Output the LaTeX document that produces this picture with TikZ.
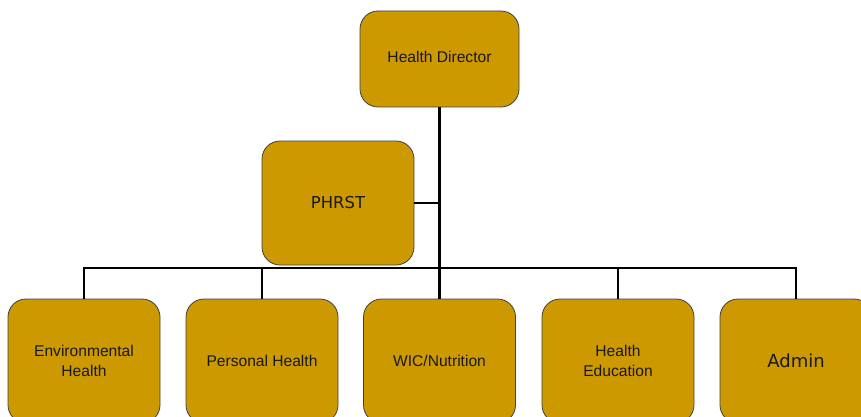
\documentclass[tikz,border=0pt]{standalone}
\usepackage{fontspec}
\setmainfont{Liberation Sans}
\newfontfamily\dvfont{DejaVu Sans}
\definecolor{boxgold}{HTML}{CC9900}
\tikzset{
  orgbox/.style={draw=black!75, line width=0.8pt, fill=boxgold, rounded corners=18pt,
    align=center, inner sep=2pt, text=black!90,
    font=\fontsize{15.6}{20}\selectfont},
  link/.style={draw=black, line width=2.9pt}
}
\begin{document}
\begin{tikzpicture}[x=1pt,y=-1pt]
\useasboundingbox (0,0) rectangle (861,417);
\node[orgbox, minimum width=159pt, minimum height=96pt] (hd) at (439.5,59) {\raisebox{4.5pt}{Health Director}};
\node[orgbox, minimum width=152pt, minimum height=124pt, font=\dvfont\fontsize{16.4}{19}\selectfont] (ph) at (338,203) {PHRST};
\node[orgbox, minimum width=152pt, minimum height=124pt] (env) at (84,361) {Environmental\\Health};
\node[orgbox, minimum width=152pt, minimum height=124pt] (per) at (262,361) {Personal Health};
\node[orgbox, minimum width=152pt, minimum height=124pt] (wic) at (439.5,361) {WIC/Nutrition};
\node[orgbox, minimum width=152pt, minimum height=124pt] (hed) at (618,361) {Health\\Education};
\node[orgbox, minimum width=152pt, minimum height=124pt, font=\dvfont\fontsize{18}{21}\selectfont] (adm) at (796,361) {Admin};
\coordinate (bus) at (0,268);
\draw[link] (hd.south) -- (hd.south |- bus);
\draw[link] (ph.east) -- (ph.east -| hd.south);
\draw[link, line cap=rect] (env.north |- bus) -- (adm.north |- bus);
\foreach \n in {env,per,wic,hed,adm} \draw[link] (\n.north |- bus) -- (\n.north);
\end{tikzpicture}
\end{document}
